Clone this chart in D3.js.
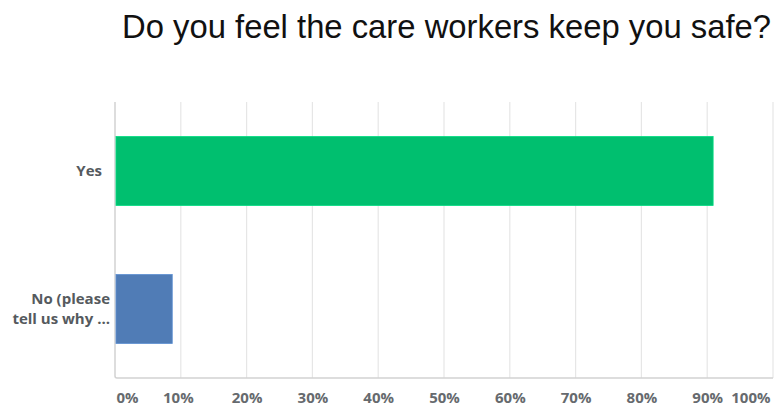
<!DOCTYPE html>
<html>
<head>
<meta charset="utf-8">
<script src="https://cdn.jsdelivr.net/npm/d3@7"></script>
<style>
  html, body { margin: 0; padding: 0; background: #fff; overflow: hidden; }
  svg { display: block; }
</style>
</head>
<body>
<svg id="chart" width="777" height="407"></svg>
<script>
// Survey answers and the share of respondents (%) for each
const categories = ["Yes", "No (please tell us why ..."];
const labelLines = [["Yes"], ["No (please", "tell us why ..."]];
const values = [90.9, 8.7];
const barColors = ["#00bf6f", "#507cb6"];
const tickValues = [0, 10, 20, 30, 40, 50, 60, 70, 80, 90, 100];
const title = "Do you feel the care workers keep you safe?";

const svg = d3.select("#chart");
const plot = { left: 115, right: 773, top: 102, bottom: 378 };

const x = d3.scaleLinear().domain([0, 100]).range([plot.left, plot.right]);
const y = d3.scaleBand().domain(categories).range([plot.top, plot.bottom])
  .paddingInner(0.5).paddingOuter(0.25);

// Title
svg.append("text")
  .attr("x", 122).attr("y", 38)
  .attr("font-family", "Liberation Sans, Arial, sans-serif")
  .attr("font-size", 32.8)
  .attr("fill", "#111")
  .text(title);

// Vertical gridlines
svg.append("g").selectAll("line")
  .data(tickValues.slice(1))
  .join("line")
  .attr("x1", d => x(d)).attr("x2", d => x(d))
  .attr("y1", plot.top).attr("y2", plot.bottom)
  .attr("stroke", "#e6e6e6").attr("stroke-width", 1.2);

// Axis frame (left and bottom)
svg.append("path")
  .attr("d", `M${plot.left},${plot.top}V${plot.bottom - 2}Q${plot.left},${plot.bottom} ${plot.left + 2},${plot.bottom}H${plot.right}`)
  .attr("fill", "none").attr("stroke", "#d2d2d2").attr("stroke-width", 1.5);

// Bars
svg.append("g").selectAll("rect")
  .data(values)
  .join("rect")
  .attr("x", x(0) + 1)
  .attr("y", (d, i) => y(categories[i]))
  .attr("width", d => x(d) - x(0) - 1)
  .attr("height", y.bandwidth())
  .attr("fill", (d, i) => barColors[i])
  .attr("stroke", (d, i) => d3.color(barColors[i]).brighter(0.4))
  .attr("stroke-width", 0.8);

// Category labels
const labelFont = "Open Sans, DejaVu Sans, sans-serif";
const catG = svg.append("g");
labelLines.forEach((lines, i) => {
  const cy = y(categories[i]) + y.bandwidth() / 2;
  const lh = 20;
  const xEnd = lines.length > 1 ? 110 : 102;
  const t = catG.append("text")
    .attr("text-anchor", "end")
    .attr("font-family", labelFont)
    .attr("font-weight", 700)
    .attr("font-size", 15)
    .attr("fill", "#555a5e");
  lines.forEach((ln, j) => {
    t.append("tspan")
      .attr("x", xEnd)
      .attr("y", cy + (j - (lines.length - 1) / 2) * lh)
      .attr("dy", "0.35em")
      .text(ln);
  });
});

// X tick labels
const xAxis = d3.axisBottom(x).tickValues(tickValues).tickFormat(d => d + "%").tickSize(0);
const axG = svg.append("g")
  .attr("transform", `translate(0,${plot.bottom})`)
  .call(xAxis);
axG.select(".domain").remove();
axG.selectAll("text")
  .attr("y", 24.5)
  .attr("dy", 0)
  .attr("font-family", labelFont)
  .attr("font-weight", 700)
  .attr("font-size", 15)
  .attr("fill", "#666a6e")
  .attr("text-anchor", d => d === 0 ? "start" : d === 100 ? "end" : "middle")
  .attr("dx", d => d === 0 ? 1 : d === 10 ? -3 : d === 100 ? -3 : 0);
</script>
</body>
</html>
